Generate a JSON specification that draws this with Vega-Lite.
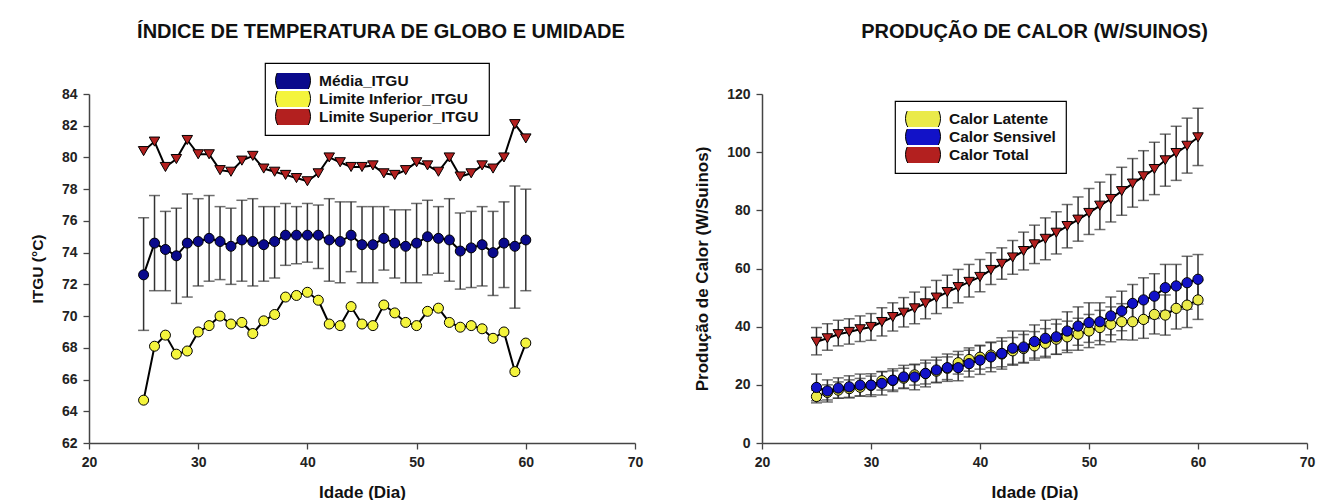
{
 "$schema": "https://vega.github.io/schema/vega-lite/v6.json",
 "background": "white",
 "padding": {"left": 30, "top": 22, "right": 5, "bottom": 0},
 "spacing": 127,
 "bounds": "flush",
 "resolve": {"scale": {"fill": "independent"}, "legend": {"fill": "independent"}},
 "config": {
  "font": "Liberation Sans",
  "view": {"stroke": null},
  "axis": {"grid": false, "domainColor": "#444", "domainWidth": 1.5, "tickColor": "#444", "tickWidth": 1.3, "tickSize": 6, "labelFont": "Liberation Sans", "labelFontWeight": "bold", "labelFontSize": 14, "labelColor": "#222", "labelPadding": 6, "labelFlush": false, "labelOverlap": false, "titleFont": "Liberation Sans", "titleFontWeight": "bold", "titleColor": "#111"},
  "title": {"font": "Liberation Sans", "fontSize": 20, "fontWeight": "bold", "color": "#111", "anchor": "middle", "frame": "group", "baseline": "middle"},
  "legend": {"title": null, "labelFont": "Liberation Sans", "labelFontWeight": "bold", "labelFontSize": 15.5, "labelColor": "#111", "strokeColor": "black", "strokeWidth": 1.2, "padding": 10, "fillColor": "white", "symbolStrokeColor": "black", "symbolStrokeWidth": 1, "labelOffset": 8, "rowPadding": 2, "clipHeight": 15}
 },
 "datasets": {
  "itgu": [
   {"dia":25,"serie":"Média_ITGU","valor":72.6,"lo":69.1,"hi":76.2},
   {"dia":26,"serie":"Média_ITGU","valor":74.6,"lo":71.6,"hi":77.6},
   {"dia":27,"serie":"Média_ITGU","valor":74.2,"lo":71.6,"hi":76.6},
   {"dia":28,"serie":"Média_ITGU","valor":73.8,"lo":70.8,"hi":76.8},
   {"dia":29,"serie":"Média_ITGU","valor":74.6,"lo":71.2,"hi":77.7},
   {"dia":30,"serie":"Média_ITGU","valor":74.7,"lo":71.9,"hi":77.4},
   {"dia":31,"serie":"Média_ITGU","valor":74.9,"lo":72.2,"hi":77.6},
   {"dia":32,"serie":"Média_ITGU","valor":74.7,"lo":72.3,"hi":76.9},
   {"dia":33,"serie":"Média_ITGU","valor":74.4,"lo":72.0,"hi":76.8},
   {"dia":34,"serie":"Média_ITGU","valor":74.8,"lo":72.2,"hi":77.3},
   {"dia":35,"serie":"Média_ITGU","valor":74.7,"lo":71.9,"hi":77.4},
   {"dia":36,"serie":"Média_ITGU","valor":74.5,"lo":72.2,"hi":76.9},
   {"dia":37,"serie":"Média_ITGU","valor":74.7,"lo":72.4,"hi":76.9},
   {"dia":38,"serie":"Média_ITGU","valor":75.1,"lo":73.2,"hi":77.1},
   {"dia":39,"serie":"Média_ITGU","valor":75.1,"lo":73.3,"hi":76.9},
   {"dia":40,"serie":"Média_ITGU","valor":75.1,"lo":73.4,"hi":77.1},
   {"dia":41,"serie":"Média_ITGU","valor":75.1,"lo":73.0,"hi":77.0},
   {"dia":42,"serie":"Média_ITGU","valor":74.8,"lo":72.2,"hi":77.4},
   {"dia":43,"serie":"Média_ITGU","valor":74.7,"lo":72.1,"hi":77.2},
   {"dia":44,"serie":"Média_ITGU","valor":75.1,"lo":72.8,"hi":77.2},
   {"dia":45,"serie":"Média_ITGU","valor":74.5,"lo":72.1,"hi":76.9},
   {"dia":46,"serie":"Média_ITGU","valor":74.5,"lo":72.1,"hi":76.9},
   {"dia":47,"serie":"Média_ITGU","valor":74.9,"lo":72.9,"hi":76.9},
   {"dia":48,"serie":"Média_ITGU","valor":74.6,"lo":72.4,"hi":76.7},
   {"dia":49,"serie":"Média_ITGU","valor":74.4,"lo":72.1,"hi":76.7},
   {"dia":50,"serie":"Média_ITGU","valor":74.6,"lo":72.1,"hi":77.1},
   {"dia":51,"serie":"Média_ITGU","valor":75.0,"lo":72.6,"hi":77.3},
   {"dia":52,"serie":"Média_ITGU","valor":74.9,"lo":72.7,"hi":76.9},
   {"dia":53,"serie":"Média_ITGU","valor":74.8,"lo":72.2,"hi":77.4},
   {"dia":54,"serie":"Média_ITGU","valor":74.1,"lo":71.7,"hi":76.5},
   {"dia":55,"serie":"Média_ITGU","valor":74.3,"lo":71.8,"hi":76.6},
   {"dia":56,"serie":"Média_ITGU","valor":74.5,"lo":71.9,"hi":76.9},
   {"dia":57,"serie":"Média_ITGU","valor":74.0,"lo":71.3,"hi":76.6},
   {"dia":58,"serie":"Média_ITGU","valor":74.6,"lo":71.8,"hi":77.2},
   {"dia":59,"serie":"Média_ITGU","valor":74.4,"lo":70.5,"hi":78.2},
   {"dia":60,"serie":"Média_ITGU","valor":74.8,"lo":71.6,"hi":78.0},
   {"dia":25,"serie":"Limite Inferior_ITGU","valor":64.7},
   {"dia":26,"serie":"Limite Inferior_ITGU","valor":68.1},
   {"dia":27,"serie":"Limite Inferior_ITGU","valor":68.8},
   {"dia":28,"serie":"Limite Inferior_ITGU","valor":67.6},
   {"dia":29,"serie":"Limite Inferior_ITGU","valor":67.8},
   {"dia":30,"serie":"Limite Inferior_ITGU","valor":69.0},
   {"dia":31,"serie":"Limite Inferior_ITGU","valor":69.4},
   {"dia":32,"serie":"Limite Inferior_ITGU","valor":70.0},
   {"dia":33,"serie":"Limite Inferior_ITGU","valor":69.5},
   {"dia":34,"serie":"Limite Inferior_ITGU","valor":69.6},
   {"dia":35,"serie":"Limite Inferior_ITGU","valor":68.9},
   {"dia":36,"serie":"Limite Inferior_ITGU","valor":69.7},
   {"dia":37,"serie":"Limite Inferior_ITGU","valor":70.1},
   {"dia":38,"serie":"Limite Inferior_ITGU","valor":71.2},
   {"dia":39,"serie":"Limite Inferior_ITGU","valor":71.3},
   {"dia":40,"serie":"Limite Inferior_ITGU","valor":71.5},
   {"dia":41,"serie":"Limite Inferior_ITGU","valor":71.0},
   {"dia":42,"serie":"Limite Inferior_ITGU","valor":69.5},
   {"dia":43,"serie":"Limite Inferior_ITGU","valor":69.4},
   {"dia":44,"serie":"Limite Inferior_ITGU","valor":70.6},
   {"dia":45,"serie":"Limite Inferior_ITGU","valor":69.5},
   {"dia":46,"serie":"Limite Inferior_ITGU","valor":69.4},
   {"dia":47,"serie":"Limite Inferior_ITGU","valor":70.7},
   {"dia":48,"serie":"Limite Inferior_ITGU","valor":70.2},
   {"dia":49,"serie":"Limite Inferior_ITGU","valor":69.6},
   {"dia":50,"serie":"Limite Inferior_ITGU","valor":69.4},
   {"dia":51,"serie":"Limite Inferior_ITGU","valor":70.3},
   {"dia":52,"serie":"Limite Inferior_ITGU","valor":70.5},
   {"dia":53,"serie":"Limite Inferior_ITGU","valor":69.6},
   {"dia":54,"serie":"Limite Inferior_ITGU","valor":69.3},
   {"dia":55,"serie":"Limite Inferior_ITGU","valor":69.4},
   {"dia":56,"serie":"Limite Inferior_ITGU","valor":69.2},
   {"dia":57,"serie":"Limite Inferior_ITGU","valor":68.6},
   {"dia":58,"serie":"Limite Inferior_ITGU","valor":69.0},
   {"dia":59,"serie":"Limite Inferior_ITGU","valor":66.5},
   {"dia":60,"serie":"Limite Inferior_ITGU","valor":68.3},
   {"dia":25,"serie":"Limite Superior_ITGU","valor":80.4},
   {"dia":26,"serie":"Limite Superior_ITGU","valor":81.0},
   {"dia":27,"serie":"Limite Superior_ITGU","valor":79.4},
   {"dia":28,"serie":"Limite Superior_ITGU","valor":79.9},
   {"dia":29,"serie":"Limite Superior_ITGU","valor":81.1},
   {"dia":30,"serie":"Limite Superior_ITGU","valor":80.2},
   {"dia":31,"serie":"Limite Superior_ITGU","valor":80.2},
   {"dia":32,"serie":"Limite Superior_ITGU","valor":79.2},
   {"dia":33,"serie":"Limite Superior_ITGU","valor":79.1},
   {"dia":34,"serie":"Limite Superior_ITGU","valor":79.8},
   {"dia":35,"serie":"Limite Superior_ITGU","valor":80.1},
   {"dia":36,"serie":"Limite Superior_ITGU","valor":79.3},
   {"dia":37,"serie":"Limite Superior_ITGU","valor":79.1},
   {"dia":38,"serie":"Limite Superior_ITGU","valor":78.9},
   {"dia":39,"serie":"Limite Superior_ITGU","valor":78.7},
   {"dia":40,"serie":"Limite Superior_ITGU","valor":78.5},
   {"dia":41,"serie":"Limite Superior_ITGU","valor":79.0},
   {"dia":42,"serie":"Limite Superior_ITGU","valor":80.0},
   {"dia":43,"serie":"Limite Superior_ITGU","valor":79.7},
   {"dia":44,"serie":"Limite Superior_ITGU","valor":79.4},
   {"dia":45,"serie":"Limite Superior_ITGU","valor":79.4},
   {"dia":46,"serie":"Limite Superior_ITGU","valor":79.5},
   {"dia":47,"serie":"Limite Superior_ITGU","valor":79.0},
   {"dia":48,"serie":"Limite Superior_ITGU","valor":78.9},
   {"dia":49,"serie":"Limite Superior_ITGU","valor":79.2},
   {"dia":50,"serie":"Limite Superior_ITGU","valor":79.7},
   {"dia":51,"serie":"Limite Superior_ITGU","valor":79.5},
   {"dia":52,"serie":"Limite Superior_ITGU","valor":79.1},
   {"dia":53,"serie":"Limite Superior_ITGU","valor":80.0},
   {"dia":54,"serie":"Limite Superior_ITGU","valor":78.8},
   {"dia":55,"serie":"Limite Superior_ITGU","valor":79.0},
   {"dia":56,"serie":"Limite Superior_ITGU","valor":79.5},
   {"dia":57,"serie":"Limite Superior_ITGU","valor":79.3},
   {"dia":58,"serie":"Limite Superior_ITGU","valor":80.0},
   {"dia":59,"serie":"Limite Superior_ITGU","valor":82.1},
   {"dia":60,"serie":"Limite Superior_ITGU","valor":81.2}
  ],
  "calor": [
   {"dia":25,"serie":"Calor Latente","valor":16.0,"lo":13.8,"hi":18.2},
   {"dia":26,"serie":"Calor Latente","valor":17.4,"lo":14.8,"hi":20.0},
   {"dia":27,"serie":"Calor Latente","valor":18.2,"lo":15.4,"hi":21.0},
   {"dia":28,"serie":"Calor Latente","valor":18.7,"lo":15.7,"hi":21.7},
   {"dia":29,"serie":"Calor Latente","valor":19.2,"lo":16.2,"hi":22.2},
   {"dia":30,"serie":"Calor Latente","valor":19.8,"lo":16.6,"hi":23.0},
   {"dia":31,"serie":"Calor Latente","valor":21.4,"lo":18.2,"hi":24.6},
   {"dia":32,"serie":"Calor Latente","valor":21.5,"lo":18.2,"hi":24.8},
   {"dia":33,"serie":"Calor Latente","valor":22.3,"lo":18.9,"hi":25.7},
   {"dia":34,"serie":"Calor Latente","valor":23.4,"lo":19.9,"hi":26.9},
   {"dia":35,"serie":"Calor Latente","valor":23.9,"lo":20.3,"hi":27.5},
   {"dia":36,"serie":"Calor Latente","valor":24.7,"lo":20.9,"hi":28.5},
   {"dia":37,"serie":"Calor Latente","valor":25.7,"lo":21.8,"hi":29.6},
   {"dia":38,"serie":"Calor Latente","valor":27.6,"lo":23.7,"hi":31.5},
   {"dia":39,"serie":"Calor Latente","valor":28.7,"lo":24.7,"hi":32.7},
   {"dia":40,"serie":"Calor Latente","valor":29.5,"lo":25.4,"hi":33.6},
   {"dia":41,"serie":"Calor Latente","valor":30.2,"lo":25.9,"hi":34.5},
   {"dia":42,"serie":"Calor Latente","valor":30.6,"lo":26.2,"hi":35.0},
   {"dia":43,"serie":"Calor Latente","valor":31.7,"lo":27.1,"hi":36.3},
   {"dia":44,"serie":"Calor Latente","valor":32.5,"lo":27.7,"hi":37.3},
   {"dia":45,"serie":"Calor Latente","valor":33.4,"lo":28.5,"hi":38.3},
   {"dia":46,"serie":"Calor Latente","valor":34.3,"lo":29.3,"hi":39.3},
   {"dia":47,"serie":"Calor Latente","valor":35.7,"lo":30.5,"hi":40.9},
   {"dia":48,"serie":"Calor Latente","valor":36.5,"lo":31.1,"hi":41.9},
   {"dia":49,"serie":"Calor Latente","valor":37.4,"lo":31.9,"hi":42.9},
   {"dia":50,"serie":"Calor Latente","valor":38.5,"lo":32.8,"hi":44.2},
   {"dia":51,"serie":"Calor Latente","valor":39.7,"lo":33.8,"hi":45.6},
   {"dia":52,"serie":"Calor Latente","valor":40.8,"lo":34.8,"hi":46.8},
   {"dia":53,"serie":"Calor Latente","valor":41.7,"lo":35.5,"hi":47.9},
   {"dia":54,"serie":"Calor Latente","valor":41.7,"lo":35.4,"hi":48.0},
   {"dia":55,"serie":"Calor Latente","valor":42.5,"lo":36.0,"hi":49.0},
   {"dia":56,"serie":"Calor Latente","valor":44.2,"lo":37.5,"hi":50.9},
   {"dia":57,"serie":"Calor Latente","valor":44.0,"lo":37.1,"hi":50.9},
   {"dia":58,"serie":"Calor Latente","valor":46.3,"lo":39.2,"hi":53.4},
   {"dia":59,"serie":"Calor Latente","valor":47.4,"lo":39.7,"hi":55.1},
   {"dia":60,"serie":"Calor Latente","valor":49.2,"lo":42.5,"hi":55.9},
   {"dia":25,"serie":"Calor Sensivel","valor":19.1,"lo":14.5,"hi":23.7},
   {"dia":26,"serie":"Calor Sensivel","valor":17.9,"lo":14.1,"hi":21.7},
   {"dia":27,"serie":"Calor Sensivel","valor":18.9,"lo":15.4,"hi":22.4},
   {"dia":28,"serie":"Calor Sensivel","valor":19.3,"lo":15.5,"hi":23.1},
   {"dia":29,"serie":"Calor Sensivel","valor":19.9,"lo":16.1,"hi":23.7},
   {"dia":30,"serie":"Calor Sensivel","valor":19.9,"lo":16.0,"hi":23.8},
   {"dia":31,"serie":"Calor Sensivel","valor":20.5,"lo":16.5,"hi":24.5},
   {"dia":32,"serie":"Calor Sensivel","valor":21.6,"lo":17.7,"hi":25.5},
   {"dia":33,"serie":"Calor Sensivel","valor":22.7,"lo":18.7,"hi":26.7},
   {"dia":34,"serie":"Calor Sensivel","valor":22.7,"lo":18.3,"hi":27.1},
   {"dia":35,"serie":"Calor Sensivel","valor":23.9,"lo":19.3,"hi":28.5},
   {"dia":36,"serie":"Calor Sensivel","valor":25.1,"lo":20.7,"hi":29.5},
   {"dia":37,"serie":"Calor Sensivel","valor":25.9,"lo":21.2,"hi":30.6},
   {"dia":38,"serie":"Calor Sensivel","valor":25.9,"lo":21.4,"hi":30.4},
   {"dia":39,"serie":"Calor Sensivel","valor":27.3,"lo":22.7,"hi":31.9},
   {"dia":40,"serie":"Calor Sensivel","valor":28.5,"lo":23.6,"hi":33.4},
   {"dia":41,"serie":"Calor Sensivel","valor":29.6,"lo":24.5,"hi":34.7},
   {"dia":42,"serie":"Calor Sensivel","valor":30.8,"lo":25.4,"hi":36.2},
   {"dia":43,"serie":"Calor Sensivel","valor":32.6,"lo":26.7,"hi":38.5},
   {"dia":44,"serie":"Calor Sensivel","valor":33.0,"lo":27.5,"hi":38.5},
   {"dia":45,"serie":"Calor Sensivel","valor":34.9,"lo":29.2,"hi":40.6},
   {"dia":46,"serie":"Calor Sensivel","valor":36.0,"lo":29.8,"hi":42.2},
   {"dia":47,"serie":"Calor Sensivel","valor":36.5,"lo":30.5,"hi":42.5},
   {"dia":48,"serie":"Calor Sensivel","valor":38.5,"lo":31.9,"hi":45.1},
   {"dia":49,"serie":"Calor Sensivel","valor":40.2,"lo":33.6,"hi":46.8},
   {"dia":50,"serie":"Calor Sensivel","valor":41.4,"lo":34.6,"hi":48.2},
   {"dia":51,"serie":"Calor Sensivel","valor":41.7,"lo":35.2,"hi":48.2},
   {"dia":52,"serie":"Calor Sensivel","valor":43.7,"lo":37.2,"hi":50.2},
   {"dia":53,"serie":"Calor Sensivel","valor":45.4,"lo":38.6,"hi":52.2},
   {"dia":54,"serie":"Calor Sensivel","valor":48.0,"lo":41.5,"hi":54.5},
   {"dia":55,"serie":"Calor Sensivel","valor":49.2,"lo":41.6,"hi":56.8},
   {"dia":56,"serie":"Calor Sensivel","valor":50.5,"lo":42.8,"hi":58.2},
   {"dia":57,"serie":"Calor Sensivel","valor":53.4,"lo":45.4,"hi":61.4},
   {"dia":58,"serie":"Calor Sensivel","valor":54.0,"lo":46.6,"hi":61.4},
   {"dia":59,"serie":"Calor Sensivel","valor":55.1,"lo":46.0,"hi":64.2},
   {"dia":60,"serie":"Calor Sensivel","valor":56.3,"lo":47.8,"hi":64.8},
   {"dia":25,"serie":"Calor Total","valor":34.8,"lo":30.3,"hi":39.7},
   {"dia":26,"serie":"Calor Total","valor":36.0,"lo":31.9,"hi":41.0},
   {"dia":27,"serie":"Calor Total","valor":37.4,"lo":33.4,"hi":42.2},
   {"dia":28,"serie":"Calor Total","valor":38.2,"lo":34.0,"hi":42.7},
   {"dia":29,"serie":"Calor Total","valor":39.1,"lo":34.9,"hi":43.7},
   {"dia":30,"serie":"Calor Total","valor":39.9,"lo":35.3,"hi":44.5},
   {"dia":31,"serie":"Calor Total","valor":41.6,"lo":36.8,"hi":46.5},
   {"dia":32,"serie":"Calor Total","valor":43.3,"lo":38.5,"hi":48.2},
   {"dia":33,"serie":"Calor Total","valor":44.8,"lo":39.9,"hi":50.0},
   {"dia":34,"serie":"Calor Total","valor":46.3,"lo":41.0,"hi":51.9},
   {"dia":35,"serie":"Calor Total","valor":48.0,"lo":42.7,"hi":53.6},
   {"dia":36,"serie":"Calor Total","valor":50.0,"lo":44.5,"hi":55.9},
   {"dia":37,"serie":"Calor Total","valor":51.9,"lo":46.5,"hi":57.7},
   {"dia":38,"serie":"Calor Total","valor":53.6,"lo":48.2,"hi":59.7},
   {"dia":39,"serie":"Calor Total","valor":55.4,"lo":50.2,"hi":61.4},
   {"dia":40,"serie":"Calor Total","valor":57.1,"lo":52.0,"hi":63.1},
   {"dia":41,"serie":"Calor Total","valor":59.5,"lo":54.5,"hi":65.4},
   {"dia":42,"serie":"Calor Total","valor":61.6,"lo":56.3,"hi":67.1},
   {"dia":43,"serie":"Calor Total","valor":63.8,"lo":58.0,"hi":69.6},
   {"dia":44,"serie":"Calor Total","valor":66.0,"lo":59.5,"hi":72.5},
   {"dia":45,"serie":"Calor Total","valor":68.3,"lo":61.7,"hi":74.9},
   {"dia":46,"serie":"Calor Total","valor":70.2,"lo":63.0,"hi":77.4},
   {"dia":47,"serie":"Calor Total","valor":72.3,"lo":65.0,"hi":79.5},
   {"dia":48,"serie":"Calor Total","valor":74.6,"lo":67.1,"hi":82.0},
   {"dia":49,"serie":"Calor Total","valor":76.8,"lo":69.4,"hi":84.6},
   {"dia":50,"serie":"Calor Total","valor":79.1,"lo":71.7,"hi":87.5},
   {"dia":51,"serie":"Calor Total","valor":81.6,"lo":73.4,"hi":89.7},
   {"dia":52,"serie":"Calor Total","valor":83.9,"lo":76.0,"hi":92.3},
   {"dia":53,"serie":"Calor Total","valor":86.6,"lo":78.3,"hi":94.8},
   {"dia":54,"serie":"Calor Total","valor":89.2,"lo":81.1,"hi":97.8},
   {"dia":55,"serie":"Calor Total","valor":91.7,"lo":83.4,"hi":100.5},
   {"dia":56,"serie":"Calor Total","valor":94.2,"lo":85.4,"hi":103.4},
   {"dia":57,"serie":"Calor Total","valor":97.2,"lo":88.3,"hi":106.2},
   {"dia":58,"serie":"Calor Total","valor":99.7,"lo":90.3,"hi":108.9},
   {"dia":59,"serie":"Calor Total","valor":102.2,"lo":92.8,"hi":111.7},
   {"dia":60,"serie":"Calor Total","valor":105.1,"lo":95.4,"hi":115.1}
  ]
 },
 "hconcat": [
  {
   "width": 546, "height": 349,
   "data": {"name": "itgu"},
   "title": {"text": "ÍNDICE DE TEMPERATURA DE GLOBO E UMIDADE", "offset": 20, "dx": 19},
   "encoding": {
    "x": {"field": "dia", "type": "quantitative", "scale": {"domain": [20, 70], "nice": false, "zero": false}, "axis": {"values": [20, 30, 40, 50, 60, 70], "title": "Idade (Dia)", "titleFontSize": 17, "titlePadding": 15}},
    "y": {"field": "valor", "type": "quantitative", "scale": {"domain": [62, 84], "nice": false, "zero": false}, "axis": {"title": "ITGU (°C)", "titleFontSize": 15.5, "titlePadding": 16, "values": [62, 64, 66, 68, 70, 72, 74, 76, 78, 80, 82, 84]}}
   },
   "layer": [
    {
     "transform": [{"filter": "datum.serie === 'Média_ITGU'"}],
     "mark": {"type": "errorbar", "color": "#333", "thickness": 1.5, "ticks": {"size": 11, "thickness": 1.5, "color": "#333"}, "rule": {"strokeWidth": 1.5, "color": "#333"}},
     "encoding": {
      "y": {"field": "lo", "type": "quantitative", "axis": {"title": "ITGU (°C)", "titleFontSize": 15.5, "titlePadding": 16, "values": [62, 64, 66, 68, 70, 72, 74, 76, 78, 80, 82, 84]}},
      "y2": {"field": "hi"}
     }
    },
    {
     "mark": {"type": "line", "color": "black", "strokeWidth": 2},
     "encoding": {"detail": {"field": "serie"}}
    },
    {
     "transform": [{"filter": "datum.serie !== 'Limite Superior_ITGU'"}],
     "mark": {"type": "point", "shape": "circle", "filled": true, "stroke": "black", "strokeWidth": 1, "size": 100, "opacity": 1},
     "encoding": {
      "fill": {"field": "serie", "type": "nominal", "scale": {"domain": ["Média_ITGU", "Limite Inferior_ITGU", "Limite Superior_ITGU"], "range": ["#0a0a8c", "#f4f43c", "#b3201f"]},
       "legend": {"orient": "none", "legendX": 176, "legendY": -31, "symbolSize": 1225,
        "encode": {"symbols": {"size": {"value": 110}, "strokeWidth": {"value": 1}, "stroke": {"value": "black"}}}}}
     }
    },
    {
     "transform": [{"filter": "datum.serie === 'Limite Superior_ITGU'"}],
     "mark": {"type": "point", "shape": "triangle-down", "filled": true, "stroke": "black", "strokeWidth": 1, "size": 110, "opacity": 1},
     "encoding": {
      "fill": {"field": "serie", "type": "nominal", "scale": {"domain": ["Média_ITGU", "Limite Inferior_ITGU", "Limite Superior_ITGU"], "range": ["#0a0a8c", "#f4f43c", "#b3201f"]},
       "legend": {"orient": "none", "legendX": 176, "legendY": -31, "symbolSize": 1225,
        "encode": {"symbols": {"size": {"value": 110}, "strokeWidth": {"value": 1}, "stroke": {"value": "black"}}}}}
     }
    }
   ]
  },
  {
   "width": 545, "height": 349,
   "data": {"name": "calor"},
   "title": {"text": "PRODUÇÃO DE CALOR (W/SUINOS)", "offset": 45},
   "encoding": {
    "x": {"field": "dia", "type": "quantitative", "scale": {"domain": [20, 70], "nice": false, "zero": false}, "axis": {"values": [20, 30, 40, 50, 60, 70], "title": "Idade (Dia)", "titleFontSize": 17, "titlePadding": 15}},
    "y": {"field": "valor", "type": "quantitative", "scale": {"domain": [0, 120], "nice": false}, "axis": {"title": "Produção de Calor (W/Suinos)", "titleFontSize": 17, "titlePadding": 15, "values": [0, 20, 40, 60, 80, 100, 120]}}
   },
   "layer": [
    {
     "mark": {"type": "errorbar", "color": "#333", "thickness": 1.5, "ticks": {"size": 11, "thickness": 1.5, "color": "#333"}, "rule": {"strokeWidth": 1.5, "color": "#333"}},
     "encoding": {
      "y": {"field": "lo", "type": "quantitative", "axis": {"title": "Produção de Calor (W/Suinos)", "titleFontSize": 17, "titlePadding": 15, "values": [0, 20, 40, 60, 80, 100, 120]}},
      "y2": {"field": "hi"},
      "detail": {"field": "serie"}
     }
    },
    {
     "mark": {"type": "line", "color": "black", "strokeWidth": 2},
     "encoding": {"detail": {"field": "serie"}}
    },
    {
     "transform": [{"filter": "datum.serie !== 'Calor Total'"}],
     "mark": {"type": "point", "shape": "circle", "filled": true, "stroke": "black", "strokeWidth": 1, "size": 105, "opacity": 1},
     "encoding": {
      "fill": {"field": "serie", "type": "nominal", "scale": {"domain": ["Calor Latente", "Calor Sensivel", "Calor Total"], "range": ["#eaea4a", "#1212c8", "#b3201f"]},
       "legend": {"orient": "none", "legendX": 133, "legendY": 7, "symbolSize": 1225,
        "encode": {"symbols": {"size": {"value": 110}, "strokeWidth": {"value": 1}, "stroke": {"value": "black"}}}}}
     }
    },
    {
     "transform": [{"filter": "datum.serie === 'Calor Total'"}],
     "mark": {"type": "point", "shape": "triangle-down", "filled": true, "stroke": "black", "strokeWidth": 1, "size": 110, "opacity": 1},
     "encoding": {
      "fill": {"field": "serie", "type": "nominal", "scale": {"domain": ["Calor Latente", "Calor Sensivel", "Calor Total"], "range": ["#eaea4a", "#1212c8", "#b3201f"]},
       "legend": {"orient": "none", "legendX": 133, "legendY": 7, "symbolSize": 1225,
        "encode": {"symbols": {"size": {"value": 110}, "strokeWidth": {"value": 1}, "stroke": {"value": "black"}}}}}
     }
    }
   ]
  }
 ]
}
